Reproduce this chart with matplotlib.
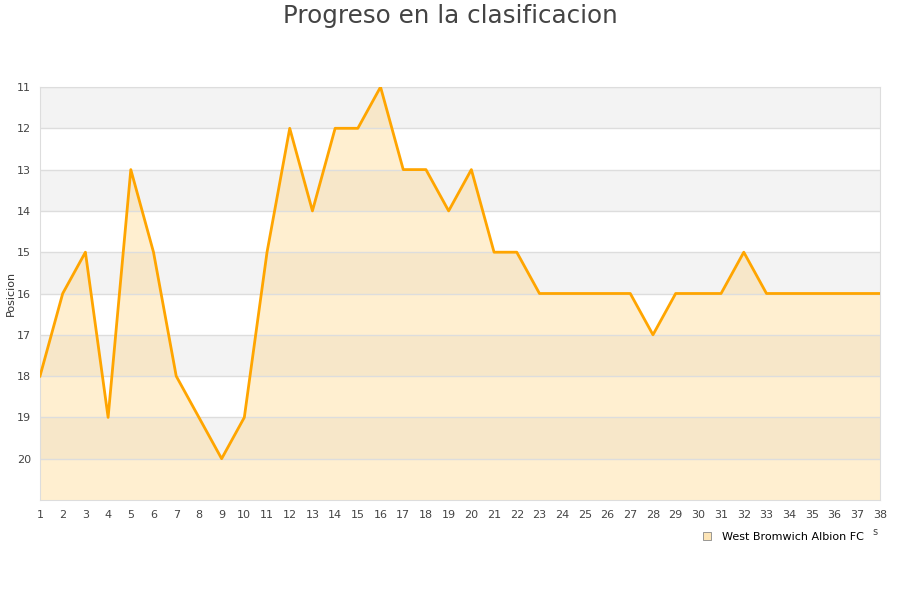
import matplotlib
matplotlib.use("Agg")
import matplotlib.pyplot as plt
from matplotlib.lines import Line2D

# jornadas y posicion del equipo
jornadas = list(range(1, 39))
posicion = [18, 16, 15, 19, 13, 15, 18, 19, 20, 19,
            15, 12, 14, 12, 12, 11, 13, 13, 14, 13,
            15, 15, 16, 16, 16, 16, 16, 17, 16, 16,
            16, 15, 16, 16, 16, 16, 16, 16]
equipo = "West Bromwich Albion FC"
y_ticks = list(range(11, 21))

fig = plt.figure(figsize=(9, 6), dpi=100)
ax = fig.add_axes([40 / 900, 100 / 600, 840 / 900, 413 / 600])

# bandas alternas de fondo
for y in range(11, 21, 2):
    ax.axhspan(y, y + 1, color="#f3f3f3", zorder=0, lw=0)

ax.fill_between(jornadas, posicion, 21, color="#ffd78a", alpha=0.4, zorder=1, lw=0)
ax.plot(jornadas, posicion, color="#ffa500", lw=2, zorder=3)

ax.set_xlim(1, 38)
ax.set_ylim(21, 11)
ax.set_xticks(jornadas)
ax.set_yticks(y_ticks)
ax.tick_params(axis="x", length=0, labelsize=8, colors="#444444", pad=7)
ax.tick_params(axis="y", length=0, labelsize=8, colors="#444444", pad=6.5)
ax.grid(axis="y", color="#dddddd", lw=1, zorder=2)
for s in ax.spines.values():
    s.set_color("#dddddd")
ax.set_axisbelow(False)
ax.set_ylabel("Posicion", fontsize=8, color="#333333")
ax.yaxis.set_label_coords(-24 / 840, 0.5)

fig.text(0.5, 1 - 16 / 600, "Progreso en la clasificacion", ha="center", va="center",
         fontsize=17.7, color="#444444")

handle = Line2D([], [], marker="s", ls="none", markersize=6,
                markerfacecolor="#fde5b7", markeredgecolor="#888888", markeredgewidth=0.6)
fig.legend([handle], [equipo], loc="center", bbox_to_anchor=(780 / 900, 1 - 537 / 600),
           frameon=False, fontsize=8, handletextpad=0.3)
fig.text(875 / 900, 1 - 532 / 600, "s", fontsize=7, color="#444444", ha="center", va="center")

fig.savefig("out.png", dpi=100)
